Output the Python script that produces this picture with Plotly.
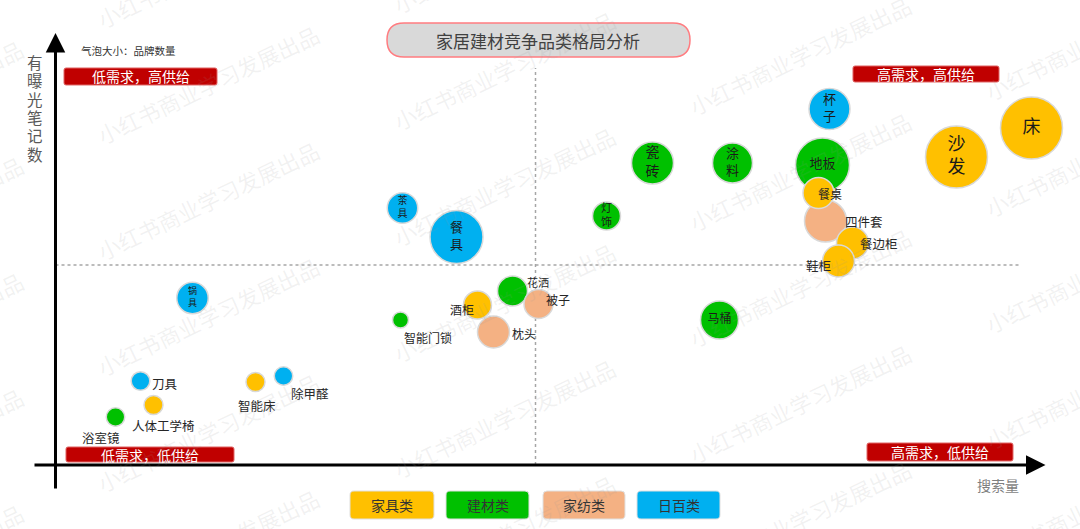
import plotly.graph_objects as go

W, H = 1080, 529
FONT = "Noto Sans CJK SC"

# ---------------- data ----------------
categories = ["建材类", "家纺类", "家具类", "日百类"]   # drawing order
legend_order = ["家具类", "建材类", "家纺类", "日百类"]
cat_colors = {"家具类": "#FFC000", "建材类": "#00C000", "家纺类": "#F4B183", "日百类": "#00B0F0"}

building_names = ["地板", "涂料", "瓷砖", "灯饰", "花洒", "马桶", "智能门锁", "浴室镜"]
building_search = [76.7, 67.7, 59.7, 55.1, 45.7, 66.4, 34.5, 6.0]
building_notes = [30.0, 30.2, 30.2, 24.9, 17.4, 14.5, 14.5, 4.8]
building_brands = [54, 40, 42, 28, 30, 38, 16, 18.5]

textile_names = ["四件套", "被子", "枕头"]
textile_search = [77.0, 48.3, 43.8]
textile_notes = [24.4, 16.1, 13.3]
textile_brands = [42, 29, 32]

furniture_names = ["床", "沙发", "餐边柜", "鞋柜", "餐桌", "酒柜", "智能床", "人体工学椅"]
furniture_search = [97.6, 90.1, 79.7, 78.3, 76.3, 42.2, 20.0, 9.8]
furniture_notes = [33.7, 30.8, 22.2, 20.4, 27.2, 16.0, 8.3, 6.0]
furniture_brands = [62, 62, 32, 32, 31, 28, 19, 19]

daily_names = ["杯子", "餐具", "茶具", "锅具", "刀具", "除甲醛"]
daily_search = [77.4, 40.1, 34.7, 13.7, 8.5, 22.8]
daily_notes = [35.6, 22.8, 25.7, 16.7, 8.4, 8.9]
daily_brands = [41, 53, 30.5, 31.5, 18.7, 18.5]

search_mid = 48.0
notes_mid = 20.0

series = {
    "建材类": (building_names, building_search, building_notes, building_brands),
    "家纺类": (textile_names, textile_search, textile_notes, textile_brands),
    "家具类": (furniture_names, furniture_search, furniture_notes, furniture_brands),
    "日百类": (daily_names, daily_search, daily_notes, daily_brands),
}

quadrant_labels = ["低需求，高供给", "高需求，高供给", "低需求，低供给", "高需求，低供给"]

# ---------------- styling ----------------
inside_labels = {
    "床": ("床", 18), "沙发": ("沙<br>发", 18), "杯子": ("杯<br>子", 13),
    "地板": ("地板", 13), "涂料": ("涂<br>料", 13), "瓷砖": ("瓷<br>砖", 14),
    "灯饰": ("灯<br>饰", 11), "马桶": ("马桶", 12), "茶具": ("茶<br>具", 10),
    "餐具": ("餐<br>具", 13), "锅具": ("锅<br>具", 9),
}
outside_labels = {
    "刀具": (24, 2, 12.5), "人体工学椅": (10, 20, 12.5), "浴室镜": (-15, 20, 12.5),
    "智能床": (1, 23, 12.5), "除甲醛": (26, 17, 12.5), "智能门锁": (27, 17, 12),
    "花洒": (25, -9, 11), "酒柜": (-16, 4, 12), "被子": (19, -5, 12),
    "枕头": (30, 1, 12), "四件套": (38, 0, 12.5), "餐边柜": (26, 0, 12.5),
    "鞋柜": (-20, 4, 12.5), "餐桌": (11, 0, 12),
}

X_RANGE = [-5.55, 102.45]
Y_RANGE = [-6.4, 46.5]


def fx(px):
    return px / W


def fy(py):
    return 1 - py / H


def rrect(x0, y0, x1, y1, r):
    pts = [
        ("M", [(x0 + r, y0)]), ("L", [(x1 - r, y0)]), ("Q", [(x1, y0), (x1, y0 + r)]),
        ("L", [(x1, y1 - r)]), ("Q", [(x1, y1), (x1 - r, y1)]), ("L", [(x0 + r, y1)]),
        ("Q", [(x0, y1), (x0, y1 - r)]), ("L", [(x0, y0 + r)]), ("Q", [(x0, y0), (x0 + r, y0)]),
    ]
    s = ""
    for cmd, ps in pts:
        s += cmd + " " + " ".join(f"{fx(a):.5f},{fy(b):.5f}" for a, b in ps) + " "
    return s + "Z"


def paper_text(px, py, text, size, color, xanchor="center", **kw):
    return dict(x=fx(px), y=fy(py), xref="paper", yref="paper", text=text, showarrow=False,
                xanchor=xanchor, yanchor="middle", font=dict(family=FONT, size=size, color=color), **kw)


fig = go.Figure()

for cat in categories:
    names, xs, ys, sz = series[cat]
    texts = [inside_labels[n][0] if n in inside_labels else "" for n in names]
    tsz = [inside_labels[n][1] if n in inside_labels else 10 for n in names]
    fig.add_trace(go.Scatter(
        x=xs, y=ys, mode="markers+text", name=cat,
        text=texts, textposition="middle center",
        textfont=dict(family=FONT, size=tsz, color="#1a1a1a"),
        marker=dict(size=sz, sizemode="diameter", sizeref=1, color=cat_colors[cat],
                    opacity=1, line=dict(color="#D9D9D9", width=1.5)),
        showlegend=False, hoverinfo="text", hovertext=names,
    ))

annotations = []
shapes = []

# outside labels
for cat in categories:
    names, xs, ys, sz = series[cat]
    for n, x, y in zip(names, xs, ys):
        if n in outside_labels:
            dx, dy, fs = outside_labels[n]
            annotations.append(dict(x=x, y=y, xref="x", yref="y", text=n, showarrow=False,
                                    xshift=dx, yshift=-dy, xanchor="center", yanchor="middle",
                                    font=dict(family=FONT, size=fs, color="#262626")))

# dashed median lines
shapes.append(dict(type="line", xref="x", yref="y", x0=search_mid, x1=search_mid, y0=0, y1=39.7,
                   line=dict(color="#A6A6A6", width=1.5, dash="dot"), layer="below"))
shapes.append(dict(type="line", xref="x", yref="y", x0=0, x1=96.6, y0=notes_mid, y1=notes_mid,
                   line=dict(color="#A6A6A6", width=1.5, dash="dot"), layer="below"))

# axes with arrows
annotations.append(dict(x=99.0, y=0, ax=-2.25, ay=0, xref="x", yref="y", axref="x", ayref="y",
                        text="", showarrow=True, arrowhead=2, arrowsize=1.3, arrowwidth=3,
                        arrowcolor="#000000"))
annotations.append(dict(x=0, y=43.2, ax=0, ay=-2.5, xref="x", yref="y", axref="x", ayref="y",
                        text="", showarrow=True, arrowhead=2, arrowsize=1.3, arrowwidth=3,
                        arrowcolor="#000000"))

# title
shapes.append(dict(type="path", xref="paper", yref="paper", path=rrect(387, 23, 690, 57, 17),
                   fillcolor="#D9D9D9", line=dict(color="#FF7C80", width=1.5)))
annotations.append(paper_text(538, 40, "家居建材竞争品类格局分析", 17, "#404040"))

# bubble size note
annotations.append(paper_text(79, 50, "气泡大小：品牌数量", 10.5, "#333333", xanchor="left"))

# axis titles
for i, ch in enumerate("有曝光笔记数"):
    annotations.append(paper_text(35, 62 + i * 18.3, ch, 15.5, "#595959"))
annotations.append(paper_text(998, 485, "搜索量", 14, "#7F7F7F"))

# quadrant boxes
quad_boxes = [(64, 68, 217, 85), (853, 66, 999, 82), (66, 447, 234, 462), (867, 443, 1013, 461)]
for lab, (x0, y0, x1, y1) in zip(quadrant_labels, quad_boxes):
    shapes.append(dict(type="path", xref="paper", yref="paper", path=rrect(x0, y0, x1, y1, 2),
                       fillcolor="#C00000", line=dict(color="#E06666", width=1)))
    annotations.append(paper_text((x0 + x1) / 2, (y0 + y1) / 2, lab, 14, "#FFFFFF"))

# legend boxes
leg_boxes = [(350, 491, 434, 519), (446, 491, 529, 519), (543, 491, 625, 519), (637, 491, 720, 519)]
for cat, (x0, y0, x1, y1) in zip(legend_order, leg_boxes):
    shapes.append(dict(type="path", xref="paper", yref="paper", path=rrect(x0, y0, x1, y1, 4),
                       fillcolor=cat_colors[cat], line=dict(color="#E0E0E0", width=1)))
    annotations.append(paper_text((x0 + x1) / 2, (y0 + y1) / 2, cat, 14, "#333333"))

# watermark
for k in range(-1, 4):
    for n in range(-1, 5):
        sx = 96 + 296 * k
        sy = 137 - 14.5 * k + 116 * n
        cx, cy = sx + 112, sy - 53
        annotations.append(paper_text(cx, cy, "小红书商业学习发展出品", 22, "rgba(150,150,150,0.13)",
                                      textangle=-25.5))

fig.update_layout(
    width=W, height=H, margin=dict(l=0, r=0, t=0, b=0),
    paper_bgcolor="#FFFFFF", plot_bgcolor="#FFFFFF",
    xaxis=dict(range=X_RANGE, visible=False, fixedrange=True),
    yaxis=dict(range=Y_RANGE, visible=False, fixedrange=True),
    shapes=shapes, annotations=annotations, showlegend=False,
    font=dict(family=FONT),
)

fig.write_html("out.html", config={"displayModeBar": False},
               post_script="document.body.style.margin='0';document.body.style.overflow='hidden';")
